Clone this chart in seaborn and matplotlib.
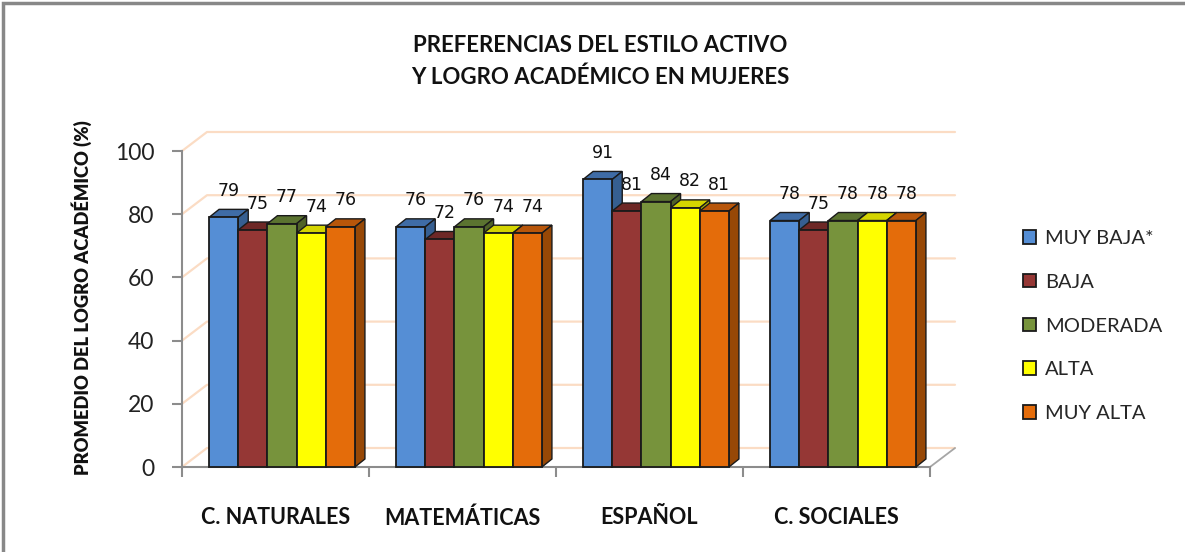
import numpy as np
import pandas as pd
import seaborn as sns
import matplotlib.pyplot as plt
from matplotlib.patches import Polygon, Rectangle

# ---------------- data ----------------
categories = ["C. NATURALES", "MATEMÁTICAS", "ESPAÑOL", "C. SOCIALES"]
levels = ["MUY BAJA*", "BAJA", "MODERADA", "ALTA", "MUY ALTA"]
muy_baja = [79, 76, 91, 78]
baja = [75, 72, 81, 75]
moderada = [77, 76, 84, 78]
alta = [74, 74, 82, 78]
muy_alta = [76, 74, 81, 78]
y_ticks = [0, 20, 40, 60, 80, 100]

series = [muy_baja, baja, moderada, alta, muy_alta]

# ---------------- style ----------------
front_colors = ["#558ED5", "#953735", "#77933C", "#FFFF00", "#E46C0A"]
top_colors = ["#3F6CA6", "#6E2826", "#5B7330", "#D4D400", "#B8560A"]
side_colors = ["#365F91", "#5E2220", "#4F6228", "#B8B800", "#974806"]
grid_color = "#FBDCC4"
axis_gray = "#8C8C8C"

sns.set_theme(style="white")
plt.rcParams["font.family"] = ["Lato", "DejaVu Sans"]

rows = []
for lvl, vals in zip(levels, series):
    for cat, v in zip(categories, vals):
        rows.append({"categoria": cat, "nivel": lvl, "valor": v})
df = pd.DataFrame(rows)

W, H = 1185, 552
fig = plt.figure(figsize=(W / 100, H / 100), dpi=100)
fig.patch.set_facecolor("white")

# outer frame (top and left edges visible)
fig.add_artist(Rectangle((0.0025, -0.05), 1.2, 1.045, transform=fig.transFigure,
                         fill=False, edgecolor="#888888", linewidth=2.5))

ax_left, ax_right = 182 / W, 930 / W
ax_bottom, ax_top = 1 - 467 / H, 1 - 151 / H
ax = fig.add_axes([ax_left, ax_bottom, ax_right - ax_left, ax_top - ax_bottom])
ax.set_facecolor("none")

sns.barplot(data=df, x="categoria", y="valor", hue="nivel", order=categories,
            hue_order=levels, palette=front_colors, width=0.78, gap=0,
            edgecolor="#1a1a1a", linewidth=1.3, saturation=1, legend=False, ax=ax)

xmin, xmax = -0.5, len(categories) - 0.5
ax.set_xlim(xmin, xmax)
ax.set_ylim(0, 100)

# pixel -> data conversions
px_x = (xmax - xmin) / ax.bbox.width
px_y = 100 / ax.bbox.height

# 3D depth for bars and back wall
bdx, bdy = 10 * px_x, 8 * px_y
wdx, wdy = 25 * px_x, 19 * px_y
shift = 6.5 * px_x  # perspective shift of the bar clusters

# back-wall gridlines
for v in y_ticks:
    ax.plot([xmin, xmin + wdx, xmax + wdx], [v, v + wdy, v + wdy],
            color=grid_color, linewidth=1.6, zorder=0.5, clip_on=False)
# floor right edge
ax.plot([xmax, xmax + wdx], [0, wdy], color="#A6A6A6", linewidth=1.3,
        zorder=0.6, clip_on=False)

# 3D faces and labels
for i, cont in enumerate(ax.containers):
    for bar, v in zip(cont.patches, series[i]):
        bar.set_x(bar.get_x() + shift)
        x0 = bar.get_x()
        w = bar.get_width()
        h = bar.get_height()
        bar.set_zorder(3 + i)
        bar.set_clip_on(False)
        top = Polygon([(x0, h), (x0 + w, h), (x0 + w + bdx, h + bdy), (x0 + bdx, h + bdy)],
                      closed=True, facecolor=top_colors[i], edgecolor="#1a1a1a",
                      linewidth=1.0, zorder=3 + i - 0.1, clip_on=False)
        side = Polygon([(x0 + w, 0), (x0 + w + bdx, bdy), (x0 + w + bdx, h + bdy), (x0 + w, h)],
                       closed=True, facecolor=side_colors[i], edgecolor="#1a1a1a",
                       linewidth=1.0, zorder=3 + i - 0.1, clip_on=False)
        ax.add_patch(top)
        ax.add_patch(side)
        ax.annotate(f"{v}", (x0 + w / 2 + bdx / 2, h), xytext=(0, 19),
                    textcoords="offset points", ha="center", va="center",
                    fontsize=12.5, family="DejaVu Sans", color="#111111", zorder=20)

# axes styling
for s in ["top", "right"]:
    ax.spines[s].set_visible(False)
for s in ["left", "bottom"]:
    ax.spines[s].set_color(axis_gray)
    ax.spines[s].set_linewidth(1.5)
    ax.spines[s].set_zorder(1)

ax.set_yticks(y_ticks)
ax.set_yticklabels([str(t) for t in y_ticks])
ax.tick_params(axis="y", which="major", left=True, length=7, width=1.5,
               color=axis_gray, pad=13, labelsize=16.5, labelcolor="#222222")
ax.set_xticks(range(len(categories)))
ax.set_xticklabels(categories, fontweight="bold")
ax.tick_params(axis="x", which="major", bottom=False, length=0, pad=29,
               labelsize=15.5, labelcolor="#111111")
ax.set_xticks(np.arange(xmin, xmax + 0.01, 1.0), minor=True)
ax.tick_params(axis="x", which="minor", bottom=True, length=7, width=1.5,
               color=axis_gray)
ax.set_xlabel("")
ax.set_ylabel("PROMEDIO DEL LOGRO ACADÉMICO (%)", fontsize=13.2, fontweight="heavy",
              color="#111111")
ax.yaxis.set_label_coords(-0.12, 0.535)

fig.text(0.5065, 1 - 45 / H, "PREFERENCIAS DEL ESTILO ACTIVO", ha="center", va="center",
         fontsize=16, fontweight="bold", color="#111111")
fig.text(0.5065, 1 - 77 / H, "Y LOGRO ACADÉMICO EN MUJERES", ha="center", va="center",
         fontsize=16, fontweight="bold", color="#111111")

handles = [Rectangle((0, 0), 1, 1, facecolor=c, edgecolor="#1a1a1a", linewidth=1.3)
           for c in front_colors]
fig.legend(handles, levels, loc="center left", bbox_to_anchor=(1005 / W, 1 - 326 / H),
           frameon=False, fontsize=14.5, handlelength=0.65, handleheight=0.65,
           handletextpad=0.45, labelspacing=1.33)

fig.savefig("out.png", dpi=100, facecolor="white")
